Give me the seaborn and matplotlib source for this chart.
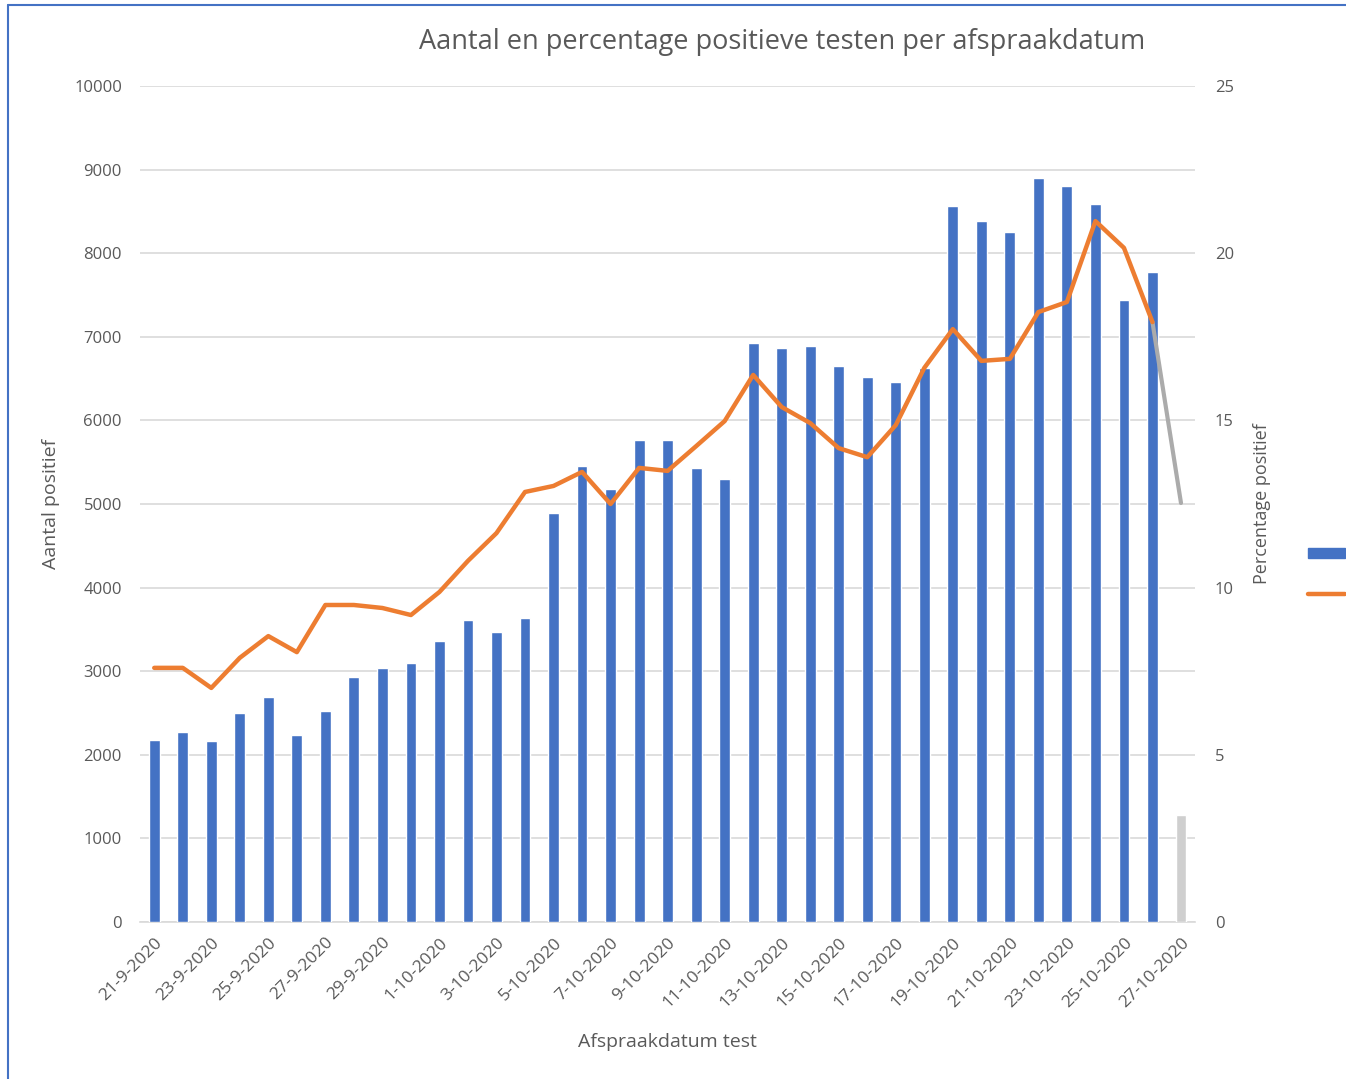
import matplotlib
matplotlib.use("Agg")
import matplotlib.pyplot as plt
import pandas as pd
import seaborn as sns
from matplotlib.lines import Line2D
from matplotlib.patches import Patch

# data
dates = ['21-9-2020', '22-9-2020', '23-9-2020', '24-9-2020', '25-9-2020', '26-9-2020',
         '27-9-2020', '28-9-2020', '29-9-2020', '30-9-2020', '1-10-2020', '2-10-2020',
         '3-10-2020', '4-10-2020', '5-10-2020', '6-10-2020', '7-10-2020', '8-10-2020',
         '9-10-2020', '10-10-2020', '11-10-2020', '12-10-2020', '13-10-2020', '14-10-2020',
         '15-10-2020', '16-10-2020', '17-10-2020', '18-10-2020', '19-10-2020', '20-10-2020',
         '21-10-2020', '22-10-2020', '23-10-2020', '24-10-2020', '25-10-2020', '26-10-2020',
         '27-10-2020']
aantal = [2180, 2270, 2170, 2500, 2690, 2240, 2520, 2930, 3040, 3100, 3360, 3610,
          3470, 3640, 4890, 5450, 5180, 5770, 5770, 5430, 5300, 6930, 6870, 6890,
          6650, 6520, 6460, 6630, 8570, 8380, 8250, 8900, 8800, 8590, 7440, 7780,
          1280]
percentage = [7.6, 7.6, 7.0, 7.9, 8.55, 8.07, 9.48, 9.48, 9.39, 9.18, 9.87, 10.8,
              11.63, 12.86, 13.04, 13.46, 12.5, 13.58, 13.49, 14.23, 14.98, 16.36, 15.4, 14.92,
              14.17, 13.9, 14.86, 16.57, 17.73, 16.78, 16.84, 18.24, 18.54, 20.96, 20.16, 17.94,
              12.53]

BLUE = '#4472C4'
ORANGE = '#ED7D31'
GREY_BAR = '#CFCFCF'
GREY_LINE = '#ABABAB'
TXT = '#595959'

df = pd.DataFrame({'datum': dates, 'aantal': aantal, 'pct': percentage})
df['pos'] = range(len(df))

sns.set_style("white")
plt.rcParams['font.family'] = ['Open Sans', 'DejaVu Sans']

fig = plt.figure(figsize=(13.46, 10.79), dpi=100)
ax = fig.add_axes([0.104, 0.1455, 0.784, 0.7748])

# bars, the last (incomplete) day in grey
colors = [BLUE] * (len(df) - 1) + [GREY_BAR]
sns.barplot(data=df, x='datum', y='aantal', hue='datum', palette=colors,
            legend=False, width=0.38, saturation=1, ax=ax, zorder=3)

ax.set_ylim(0, 10000)
ax.set_yticks(range(0, 10001, 1000))
ax.set_xlim(-0.5, len(df) - 0.5)
ax.grid(axis='y', color='#D9D9D9', linewidth=1.2, zorder=0)
ax.set_axisbelow(True)
for s in ['top', 'right', 'left']:
    ax.spines[s].set_visible(False)
ax.spines['bottom'].set_color('#D9D9D9')
ax.spines['bottom'].set_linewidth(1.2)

ax.set_xticks(range(0, len(df), 2))
ax.set_xticklabels(dates[::2], rotation=45, ha='right', rotation_mode='anchor',
                   fontsize=12.5, color=TXT)
ax.tick_params(axis='x', length=0, pad=9)
ax.tick_params(axis='y', length=0, pad=13, labelsize=12, labelcolor=TXT)
ax.set_xlabel('Afspraakdatum test', fontsize=14, color=TXT, labelpad=16)
ax.set_ylabel('Aantal positief', fontsize=14, color=TXT, labelpad=10)

# percentage line on the secondary axis
ax2 = ax.twinx()
main = df.iloc[:-1]
tail = df.iloc[-2:]
sns.lineplot(data=tail, x='pos', y='pct', color=GREY_LINE, linewidth=3, ax=ax2)
sns.lineplot(data=main, x='pos', y='pct', color=ORANGE, linewidth=3.2, ax=ax2)
ax2.set_ylim(0, 25)
ax2.set_yticks(range(0, 26, 5))
ax2.set_xlim(-0.5, len(df) - 0.5)
for s in ['top', 'right', 'left', 'bottom']:
    ax2.spines[s].set_visible(False)
ax2.tick_params(axis='y', length=0, pad=14, labelsize=12, labelcolor=TXT)
ax2.set_ylabel('Percentage positief', fontsize=13, color=TXT, labelpad=14)
ax2.set_xlabel('')

fig.text(0.581, 0.961, 'Aantal en percentage positieve testen per afspraakdatum',
         ha='center', va='center', fontsize=19.5, color=TXT)

# legend, cut off by the right edge as in the original
handles = [Patch(color=BLUE), Line2D([0], [0], color=ORANGE, linewidth=3.2)]
fig.legend(handles, ['', ''], loc='center left', bbox_to_anchor=(0.968, 0.467),
           frameon=False, handlelength=2.6, labelspacing=1.9, borderaxespad=0,
           handletextpad=0)

# outer frame of the screenshot
fig.add_artist(Line2D([0.006, 0.006], [0.0, 0.995], color='#4472C4', linewidth=1.5,
                      transform=fig.transFigure))
fig.add_artist(Line2D([0.006, 1.0], [0.995, 0.995], color='#4472C4', linewidth=1.5,
                      transform=fig.transFigure))

fig.savefig('out.png', dpi=100)
